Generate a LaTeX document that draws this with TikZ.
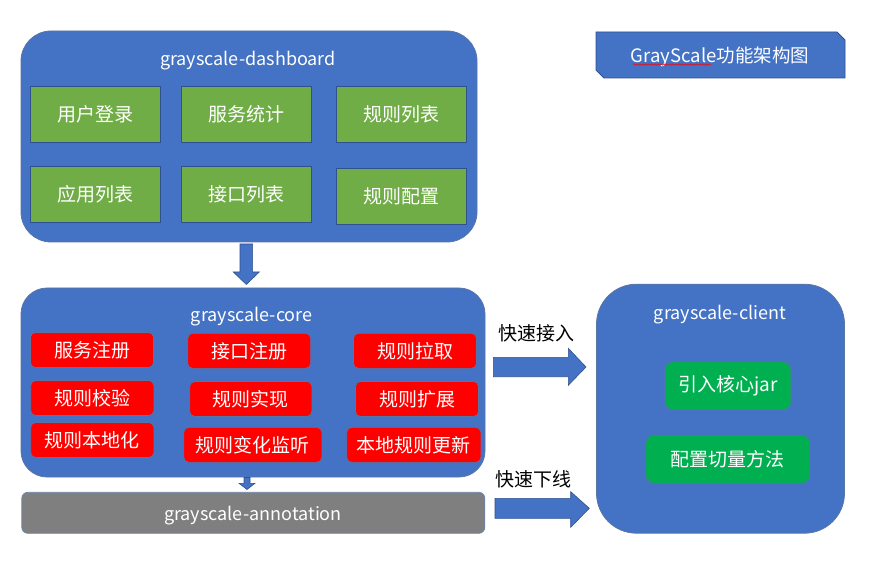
\documentclass[tikz,border=0pt]{standalone}
\usepackage{fontspec}
\setmainfont{Noto Sans CJK SC}
\usetikzlibrary{calc,decorations.pathmorphing}
\definecolor{blueA}{HTML}{4472C4}
\definecolor{blueline}{HTML}{2F528F}
\definecolor{greenA}{HTML}{70AD47}
\definecolor{greenB}{HTML}{00B050}
\definecolor{grayA}{HTML}{7F7F7F}
\definecolor{redA}{HTML}{FF0000}
\tikzset{
  outerbox/.style={draw=blueline!80, fill=blueA, line width=0.8pt},
  heading/.style={text=white, font=\fontsize{18}{21}\selectfont, inner sep=0pt},
  gbox/.style={draw=blueline, fill=greenA, line width=0.8pt, text=white,
    font=\fontsize{19}{22}\selectfont, inner sep=0pt, minimum width=130pt, minimum height=56pt},
  rbox/.style={draw=blueline!80, fill=redA, line width=0.6pt, rounded corners=5pt, text=white,
    font=\fontsize{19}{22}\selectfont, inner sep=0pt, minimum height=35pt},
  cbox/.style={draw=blueline!80, fill=greenB, line width=0.6pt, rounded corners=8pt, text=white,
    font=\fontsize{19}{22}\selectfont, inner sep=0pt, minimum height=48pt},
  blockarrow/.style={fill=blueA, draw=blueline, line width=0.6pt},
  lbl/.style={text=black, font=\fontsize{19}{22}\selectfont, inner sep=0pt}
}
\begin{document}
\begin{tikzpicture}[x=1pt,y=-1pt]
\useasboundingbox[fill=white] (0,0) rectangle (886,561);

% ---- dashboard ----
\node[outerbox, rounded corners=30pt, minimum width=456pt, minimum height=211pt] (dash) at (249,136.5) {};
\node[heading] (dashT) at (248,60.5) {grayscale-dashboard};
\node[gbox] (g1) at (95.5,114) {用户登录};
\node[gbox] (g2) at (246,114) {服务统计};
\node[gbox] (g3) at (401,114) {规则列表};
\node[gbox] (g4) at (95.5,194) {应用列表};
\node[gbox] (g5) at (246,194) {接口列表};
\node[gbox] (g6) at (401,196) {规则配置};

% ---- core ----
\node[outerbox, rounded corners=26pt, minimum width=464pt, minimum height=189pt] (core) at (253,382.5) {};
\node[heading] (coreT) at (251.7,316.5) {grayscale-core};
\node[rbox, minimum width=123pt] (r1) at (92,350) {服务注册};
\node[rbox, minimum width=123pt] (r2) at (249.2,350.8) {接口注册};
\node[rbox, minimum width=123pt] (r3) at (415,350.8) {规则拉取};
\node[rbox, minimum width=123pt] (r4) at (92.3,398) {规则校验};
\node[rbox, minimum width=122pt] (r5) at (250.8,399) {规则实现};
\node[rbox, minimum width=123pt] (r6) at (417,399) {规则扩展};
\node[rbox, minimum width=123pt] (r7) at (92.3,440) {规则本地化};
\node[rbox, minimum width=138pt] (r8) at (252.8,444.8) {规则变化监听};
\node[rbox, minimum width=134pt] (r9) at (413.8,444.8) {本地规则更新};

% ---- annotation ----
\node[draw=blueline!70, fill=grayA, line width=0.8pt, rounded corners=6pt,
  minimum width=463pt, minimum height=41pt] (anno) at (253.3,512.8) {};
\node[heading] (annoT) at (253,515.5) {grayscale-annotation};

% ---- client ----
\node[outerbox, rounded corners=40pt, minimum width=248pt, minimum height=249pt] (client) at (720.5,408.7) {};
\node[heading] (clientT) at (720,314.5) {grayscale-client};
\node[cbox, minimum width=126pt] (c1) at (728,385.8) {引入核心jar};
\node[cbox, minimum width=164pt] (c2) at (727.8,459.2) {配置切量方法};

% ---- title box ----
\draw[fill=blueA, draw=blueline, line width=0.8pt]
  (596,32) -- (837,32) -- (845,40) -- (845,78) -- (604,78) -- (596,70) -- cycle;
\node[text=white, font=\fontsize{18.5}{22}\selectfont, inner sep=0pt] (title) at (720,57) {GrayScale功能架构图};
\draw[red, line width=0.5pt, decorate, decoration={snake, amplitude=0.8pt, segment length=3pt}]
  ($(title.center)+(-87,7.5)$) -- ($(title.center)+(-9,7.5)$);

% ---- connectors (block arrows) ----
\coordinate (a1s) at (246.3,244);
\coordinate (a1e) at (246.3,284.5);
\draw[blockarrow] ($(a1s)+(-6.3,0)$) -- ($(a1s)+(6.3,0)$) -- (252.6,272) -- (259.3,272) -- (a1e) -- (233.3,272) -- (240,272) -- cycle;

\coordinate (a2s) at (247,477.5);
\coordinate (a2e) at (247,489.5);
\draw[blockarrow] ($(a2s)+(-3,0)$) -- ($(a2s)+(3,0)$) -- (250,483.3) -- (255,483.3) -- (a2e) -- (239,483.3) -- (244,483.3) -- cycle;

\coordinate (a3s) at (493.3,367);
\coordinate (a3e) at (586,367);
\draw[blockarrow] ($(a3s)+(0,-9.7)$) -- (568.3,357.3) -- (568.3,348.3) -- (a3e) -- (568.3,385.3) -- (568.3,376.7) -- ($(a3s)+(0,9.7)$) -- cycle;
\node[lbl] (l3) at (536,333) {快速接入};

\coordinate (a4s) at (495,508.3);
\coordinate (a4e) at (589.3,508.3);
\draw[blockarrow] ($(a4s)+(0,-10)$) -- (570.7,498.3) -- (570.7,491.7) -- (a4e) -- (570.7,527.3) -- (570.7,518.3) -- ($(a4s)+(0,10)$) -- cycle;
\node[lbl] (l4) at (533,479) {快速下线};
\end{tikzpicture}
\end{document}
